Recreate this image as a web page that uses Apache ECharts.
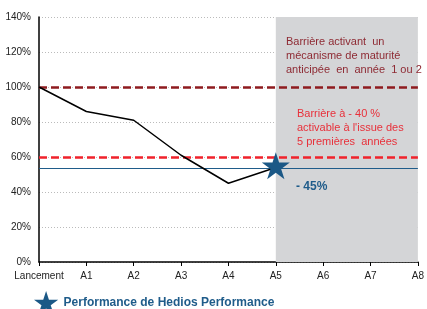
<!DOCTYPE html>
<html>
<head>
<meta charset="utf-8">
<script src="https://cdn.jsdelivr.net/npm/echarts@6/dist/echarts.min.js"></script>
<style>
html, body { margin: 0; padding: 0; background: #fff; }
#chart { width: 427px; height: 309px; }
</style>
</head>
<body>
<div id="chart"></div>
<script>
var categories = ['Lancement', 'A1', 'A2', 'A3', 'A4', 'A5', 'A6', 'A7', 'A8'];
var indexValues = [100, 86, 81, 61, 45, 54, null, null, null];
var starPoint = [['A5', 55]];
var barrierEarly = 100;
var barrierCapital = 60;
var performanceLevel = 53.5;
var yTicks = [0, 20, 40, 60, 80, 100, 120, 140];

var starPath = 'path://M50,0 L61.8,36.2 L100,36.2 L69.1,58.6 L80.9,95.1 L50,72.6 L19.1,95.1 L30.9,58.6 L0,36.2 L38.2,36.2 Z';

function initChart() {
	var chart = echarts.init(document.getElementById('chart'));
	var option = {
		animation: false,
		textStyle: { fontFamily: 'Liberation Sans, Arial, sans-serif' },
		grid: { left: 39, right: 5, top: 17, bottom: 47 },
		legend: {
			data: [{ name: 'Performance de Hedios Performance', icon: starPath, itemStyle: { opacity: 1 } }],
			left: 34,
			top: 291,
			padding: 0,
			itemWidth: 25,
			itemHeight: 23,
			itemGap: 8,
			textStyle: { color: '#1F5C8A', fontWeight: 'bold', fontSize: 12, padding: [8, 0, 0, 0] }
		},
		xAxis: {
			type: 'category',
			data: categories,
			boundaryGap: false,
			axisLine: { lineStyle: { color: '#000', width: 1.5 } },
			axisTick: { show: true, length: 4, lineStyle: { color: '#000' } },
			axisLabel: { color: '#222', fontSize: 10, margin: 9, interval: 0 },
			splitLine: { show: false }
		},
		yAxis: {
			type: 'value',
			min: yTicks[0],
			max: yTicks[yTicks.length - 1],
			interval: 20,
			axisLine: { show: true, lineStyle: { color: '#000', width: 1.5 } },
			axisTick: { show: false },
			axisLabel: { color: '#222', fontSize: 10, margin: 8, formatter: '{value}%' },
			splitLine: { lineStyle: { color: '#BBBBBB', type: [1, 2], width: 1 } }
		},
		series: [{
			name: 'Indice',
			type: 'line',
			data: indexValues,
			symbol: 'none',
			lineStyle: { color: '#000', width: 1.5 },
			z: 5,
			markArea: {
				silent: true,
				itemStyle: { color: '#D4D5D7' },
				data: [[{ xAxis: 'A5', yAxis: yTicks[0] }, { xAxis: 'A8', yAxis: yTicks[yTicks.length - 1] }]]
			},
			markLine: {
				silent: true,
				symbol: 'none',
				label: { show: false },
				data: [
					{ yAxis: barrierEarly, lineStyle: { color: '#8E1B1F', type: [8, 4], width: 2.5 } },
					{ yAxis: barrierCapital, lineStyle: { color: '#F0222B', type: [8, 4], width: 2.5 } },
					{ yAxis: performanceLevel, lineStyle: { color: '#1F5C8A', type: 'solid', width: 1 } }
				]
			}
		}, {
			name: 'Performance de Hedios Performance',
			type: 'scatter',
			data: starPoint,
			symbol: starPath,
			symbolSize: [28, 27],
			itemStyle: { color: '#1B5886', opacity: 1 },
			z: 10
		}],
		graphic: [{
			type: 'text',
			z: 100,
			left: 286,
			top: 35,
			style: {
				text: 'Barrière activant  un\nmécanisme de maturité\nanticipée  en  année  1 ou 2',
				fill: '#8E2A33',
				font: '11px Liberation Sans, Arial, sans-serif',
				lineHeight: 14
			}
		}, {
			type: 'text',
			z: 100,
			left: 297,
			top: 107,
			style: {
				text: 'Barrière à - 40 %\nactivable à l\'issue des\n5 premières  années',
				fill: '#E8303A',
				font: '11px Liberation Sans, Arial, sans-serif',
				lineHeight: 14
			}
		}, {
			type: 'text',
			z: 100,
			left: 296,
			top: 181,
			style: {
				text: '- 45%',
				fill: '#1F5C8A',
				font: 'bold 12px Liberation Sans, Arial, sans-serif'
			}
		}]
	};
	chart.setOption(option);
}
initChart();
</script>
</body>
</html>
